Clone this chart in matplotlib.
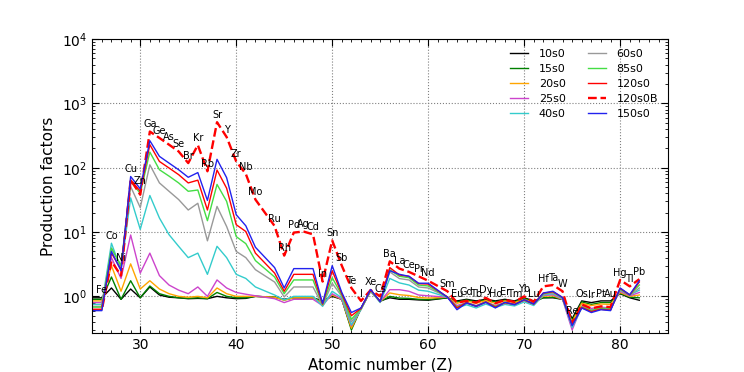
import matplotlib
matplotlib.use("Agg")
import matplotlib.pyplot as plt
import numpy as np
from matplotlib.ticker import MultipleLocator

# element data
Z = [25, 26, 27, 28, 29, 30, 31, 32, 33, 34, 35, 36, 37, 38, 39, 40, 41, 42,
     44, 45, 46, 47, 48, 49, 50, 51, 52, 53, 54, 55, 56, 57, 58, 59, 60,
     62, 63, 64, 65, 66, 67, 68, 69, 70, 71, 72, 73, 74, 75, 76, 77, 78,
     79, 80, 81, 82]
elements = ["Mn", "Fe", "Co", "Ni", "Cu", "Zn", "Ga", "Ge", "As", "Se", "Br",
            "Kr", "Rb", "Sr", "Y", "Zr", "Nb", "Mo", "Ru", "Rh", "Pd", "Ag",
            "Cd", "In", "Sn", "Sb", "Te", "I", "Xe", "Cs", "Ba", "La", "Ce",
            "Pr", "Nd", "Sm", "Eu", "Gd", "Tb", "Dy", "Ho", "Er", "Tm", "Yb",
            "Lu", "Hf", "Ta", "W", "Re", "Os", "Ir", "Pt", "Au", "Hg", "Tl",
            "Pb"]

pf_10s0 = [0.95, 0.95, 1.35, 0.9, 1.3, 0.95, 1.4, 1.05, 0.97, 0.95, 0.92, 0.93,
           0.92, 1.0, 0.95, 0.92, 0.93, 1.0, 0.97, 0.9, 0.95, 0.95, 0.95, 0.85,
           1.0, 0.9, 0.32, 0.65, 1.2, 0.85, 0.95, 0.9, 0.9, 0.88, 0.87, 0.95,
           0.85, 0.9, 0.85, 0.9, 0.85, 0.9, 0.85, 0.95, 0.85, 0.95, 0.95, 0.9,
           0.45, 0.85, 0.8, 0.85, 0.85, 1.1, 0.95, 0.87]
pf_15s0 = [0.9, 0.9, 2.0, 0.9, 1.75, 0.95, 1.45, 1.1, 1.0, 0.95, 0.93, 0.95,
           0.92, 1.15, 1.0, 0.95, 0.95, 1.0, 0.97, 0.88, 0.95, 0.95, 0.95, 0.8,
           1.05, 0.9, 0.3, 0.65, 1.22, 0.83, 1.0, 0.94, 0.93, 0.9, 0.89, 0.95,
           0.82, 0.88, 0.82, 0.88, 0.82, 0.87, 0.82, 0.93, 0.82, 0.95, 0.97,
           0.9, 0.42, 0.82, 0.75, 0.8, 0.8, 1.12, 0.97, 0.95]
pf_20s0 = [0.85, 0.85, 3.0, 1.2, 3.2, 1.3, 1.75, 1.3, 1.1, 1.0, 0.97, 1.0,
           0.95, 1.35, 1.1, 1.0, 1.0, 1.0, 0.97, 0.87, 0.95, 0.95, 0.95, 0.78,
           1.05, 0.9, 0.32, 0.65, 1.22, 0.83, 1.13, 1.06, 1.03, 0.96, 0.94,
           0.97, 0.78, 0.85, 0.78, 0.86, 0.78, 0.85, 0.8, 0.9, 0.8, 1.0, 1.02,
           0.9, 0.4, 0.78, 0.72, 0.76, 0.75, 1.15, 1.0, 1.05]
pf_25s0 = [0.8, 0.8, 4.0, 1.9, 9.0, 2.3, 4.7, 2.1, 1.5, 1.25, 1.1, 1.4, 1.0,
           1.8, 1.35, 1.15, 1.08, 1.02, 0.92, 0.8, 0.9, 0.9, 0.9, 0.72, 1.1,
           0.9, 0.35, 0.63, 1.22, 0.82, 1.27, 1.27, 1.2, 1.05, 1.02, 0.97,
           0.72, 0.8, 0.72, 0.82, 0.72, 0.8, 0.76, 0.86, 0.75, 1.03, 1.06, 0.9,
           0.3, 0.7, 0.65, 0.68, 0.66, 1.2, 1.02, 1.15]
pf_40s0 = [0.75, 0.75, 6.7, 2.6, 34, 11, 37, 16.5, 9.1, 6.0, 4.0, 4.7, 2.2,
           6.0, 4.0, 2.2, 1.9, 1.4, 1.05, 0.88, 1.0, 1.0, 1.0, 0.7, 1.2, 0.95,
           0.36, 0.62, 1.22, 0.8, 1.9, 1.62, 1.5, 1.25, 1.2, 0.97, 0.66, 0.74,
           0.66, 0.76, 0.67, 0.75, 0.71, 0.82, 0.72, 1.05, 1.1, 0.92, 0.33,
           0.66, 0.6, 0.64, 0.63, 1.25, 1.05, 1.25]
pf_60s0 = [0.7, 0.7, 5.6, 3.0, 51, 24, 111, 58, 43, 32, 22, 28, 7.3, 25, 12.2,
           5.0, 4.0, 2.6, 1.67, 0.98, 1.4, 1.4, 1.4, 0.72, 1.6, 1.0, 0.4, 0.63,
           1.25, 0.82, 2.4, 1.89, 1.8, 1.4, 1.35, 0.98, 0.68, 0.78, 0.7, 0.8,
           0.7, 0.78, 0.74, 0.86, 0.75, 1.08, 1.13, 0.94, 0.36, 0.7, 0.62,
           0.66, 0.65, 1.28, 1.03, 1.35]
pf_85s0 = [0.68, 0.68, 5.6, 3.0, 61, 40, 175, 93, 74, 58, 43, 45, 15, 55, 30,
           8.5, 6.6, 3.6, 2.0, 1.1, 1.8, 1.8, 1.8, 0.74, 1.95, 1.05, 0.44, 0.64,
           1.25, 0.83, 2.6, 2.05, 1.95, 1.5, 1.45, 0.98, 0.68, 0.8, 0.71, 0.82,
           0.7, 0.8, 0.75, 0.88, 0.76, 1.1, 1.17, 0.95, 0.37, 0.68, 0.6, 0.65,
           0.63, 1.3, 1.05, 1.5]
pf_120s0 = [0.62, 0.62, 4.7, 2.6, 65, 43, 228, 125, 99, 78, 58, 64, 22, 92, 48,
            13, 10.2, 4.7, 2.3, 1.2, 2.2, 2.2, 2.2, 0.76, 2.5, 1.1, 0.5, 0.65,
            1.27, 0.83, 2.8, 2.15, 2.05, 1.58, 1.55, 0.98, 0.66, 0.8, 0.7, 0.82,
            0.68, 0.8, 0.75, 0.88, 0.76, 1.12, 1.18, 0.96, 0.36, 0.67, 0.58,
            0.63, 0.61, 1.33, 1.05, 1.67]
pf_120s0B = [0.62, 0.62, 3.5, 2.1, 65, 38, 365, 290, 228, 179, 118, 225, 88,
             510, 300, 125, 80, 32, 12.4, 4.3, 9.8, 10.2, 9.2, 1.7, 7.4, 3.0,
             1.35, 0.85, 1.25, 1.0, 3.5, 2.7, 2.4, 2.05, 1.75, 1.2, 0.8, 0.85,
             0.8, 0.95, 0.78, 0.88, 0.82, 1.0, 0.82, 1.43, 1.5, 1.2, 0.38, 0.75,
             0.65, 0.7, 0.68, 1.8, 1.43, 1.85]
pf_150s0 = [0.6, 0.6, 5.0, 2.5, 73, 47, 263, 150, 118, 93, 71, 84, 31, 135, 70,
            18.6, 12.5, 5.8, 2.8, 1.35, 2.7, 2.7, 2.7, 0.78, 3.0, 1.15, 0.56,
            0.66, 1.28, 0.83, 2.5, 2.2, 2.05, 1.6, 1.6, 0.97, 0.62, 0.79, 0.7,
            0.81, 0.66, 0.81, 0.74, 0.89, 0.76, 1.13, 1.2, 0.96, 0.35, 0.66,
            0.56, 0.62, 0.6, 1.35, 1.06, 1.75]

models = ["10s0", "15s0", "20s0", "25s0", "40s0", "60s0", "85s0", "120s0",
          "120s0B", "150s0"]
values = [pf_10s0, pf_15s0, pf_20s0, pf_25s0, pf_40s0, pf_60s0, pf_85s0,
          pf_120s0, pf_120s0B, pf_150s0]
colors = ["k", "g", "orange", "#cc44cc", "#33cccc", "#999999", "#44dd44",
          "r", "r", "#2222ee"]

fig = plt.figure(figsize=(7.44, 3.72), dpi=100)
ax = fig.add_axes([0.124, 0.105, 0.774, 0.79])

for name, v, c in zip(models, values, colors):
    if name == "120s0B":
        ax.plot(Z, v, "--", color=c, lw=1.7, label=name)
    else:
        ax.plot(Z, v, "-", color=c, lw=1.0, label=name)

# element names above the highest curve
top = np.max(np.array(values), axis=0)
for z, el, t in zip(Z, elements, top):
    if el == "Mn":
        continue
    ax.text(z, t * 1.3, el, fontsize=7, ha="center", va="center")

ax.set_yscale("log")
ax.set_xlim(25, 85)
ax.set_ylim(0.27, 1e4)
ax.xaxis.set_major_locator(MultipleLocator(10))
ax.xaxis.set_minor_locator(MultipleLocator(1))
ax.tick_params(which="both", direction="in", top=True, right=True, labelsize=10)
ax.tick_params(which="major", length=5)
ax.tick_params(which="minor", length=2.5)
ax.grid(True, which="major", ls=":", color="gray", lw=0.8)

ax.set_xlabel("Atomic number (Z)", fontsize=11)
ax.set_ylabel("Production factors", fontsize=11)
ax.legend(ncol=2, loc="upper right", frameon=False, fontsize=8,
          labelspacing=0.45, handlelength=1.6, handletextpad=1.0,
          columnspacing=2.0)

fig.savefig("out.png", dpi=100)
